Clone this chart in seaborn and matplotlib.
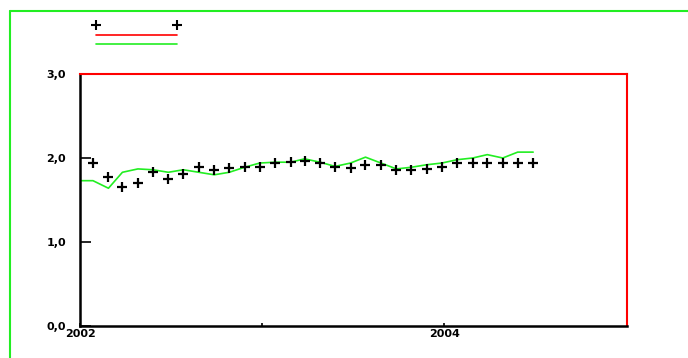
import numpy as np
import pandas as pd
import matplotlib
matplotlib.use("Agg")
import matplotlib.pyplot as plt
import matplotlib.dates as mdates
from matplotlib.lines import Line2D
import seaborn as sns

# Monthly observations, Jan 2002 - Jun 2004
obs_dates = pd.date_range("2002-01-01", periods=30, freq="MS") + pd.Timedelta(days=26)
obs_values = [1.94, 1.77, 1.65, 1.70, 1.83, 1.75, 1.81, 1.89, 1.86, 1.88,
              1.89, 1.89, 1.94, 1.95, 1.96, 1.94, 1.89, 1.88, 1.92, 1.92,
              1.86, 1.86, 1.87, 1.89, 1.94, 1.94, 1.94, 1.94, 1.94, 1.94]

# Smoothed trend, starting at the beginning of the window
trend_dates = [pd.Timestamp("2002-01-01")] + list(obs_dates)
trend_values = [1.73, 1.73, 1.64, 1.83, 1.87, 1.86, 1.83, 1.86, 1.83, 1.80,
                1.83, 1.89, 1.94, 1.95, 1.95, 1.99, 1.95, 1.90, 1.94, 2.01,
                1.94, 1.87, 1.89, 1.92, 1.94, 1.98, 2.00, 2.04, 2.00, 2.07,
                2.07]

y_ticks = [0.0, 1.0, 2.0, 3.0]
y_tick_labels = ["0,0", "1,0", "2,0", "3,0"]
x_ticks = ["2002-01-01", "2003-01-01", "2004-01-01"]
x_tick_labels = ["2002", "", "2004"]

obs = pd.DataFrame({"date": obs_dates, "value": obs_values})
trend = pd.DataFrame({"date": trend_dates, "value": trend_values})

sns.set_theme(style="white")
plt.rcParams["font.family"] = ["DejaVu Sans"]

fig = plt.figure(figsize=(6.88, 3.58), dpi=100)
ax = fig.add_axes([80 / 688, 32 / 358, 547 / 688, 252 / 358])

sns.lineplot(data=trend, x="date", y="value", ax=ax, color="#22ee22",
             linewidth=1.2, zorder=2)
sns.scatterplot(data=obs, x="date", y="value", ax=ax, marker="+",
                color="black", s=52, linewidth=1.6, zorder=3)

ax.set_xlim(pd.Timestamp("2002-01-01"), pd.Timestamp("2005-01-01"))
ax.set_ylim(0, 3.0)
ax.set_xlabel("")
ax.set_ylabel("")

ax.set_yticks(y_ticks)
ax.set_yticklabels(y_tick_labels, fontsize=8, fontweight="bold")
ax.set_xticks([mdates.date2num(pd.Timestamp(d)) for d in x_ticks])
ax.set_xticklabels(x_tick_labels, fontsize=8, fontweight="bold")
ax.tick_params(axis="y", direction="in", length=8, width=1.2, pad=10,
               left=True, colors="black")
ax.tick_params(axis="x", direction="in", length=2, width=1.2, pad=2,
               bottom=True, colors="black")

for side in ["left", "bottom"]:
    ax.spines[side].set_color("black")
    ax.spines[side].set_linewidth(1.8)
for side in ["top", "right"]:
    ax.spines[side].set_color("red")
    ax.spines[side].set_linewidth(1.5)
    ax.spines[side].set_visible(True)

# Legend: markers, red and green line keys
handles = [
    Line2D([], [], marker="+", color="black", linestyle="none",
           markersize=7, markeredgewidth=1.5),
    Line2D([], [], color="red", linewidth=1.2),
    Line2D([], [], color="#22ee22", linewidth=1.2),
]
fig.legend(handles, ["", "", ""], loc="upper left",
           bbox_to_anchor=(93 / 688, 1 - 21 / 358), frameon=False,
           fontsize=6, numpoints=2, handlelength=10.4, handletextpad=0,
           borderpad=0, borderaxespad=0, labelspacing=0.05)

# Green page border on the left and top edges
fig.add_artist(Line2D([10 / 688, 10 / 688], [0, 1 - 11 / 358],
                      transform=fig.transFigure, color="#22ee22", linewidth=1.5))
fig.add_artist(Line2D([10 / 688, 1], [1 - 11 / 358, 1 - 11 / 358],
                      transform=fig.transFigure, color="#22ee22", linewidth=1.5))

fig.savefig("out.png", dpi=100)
